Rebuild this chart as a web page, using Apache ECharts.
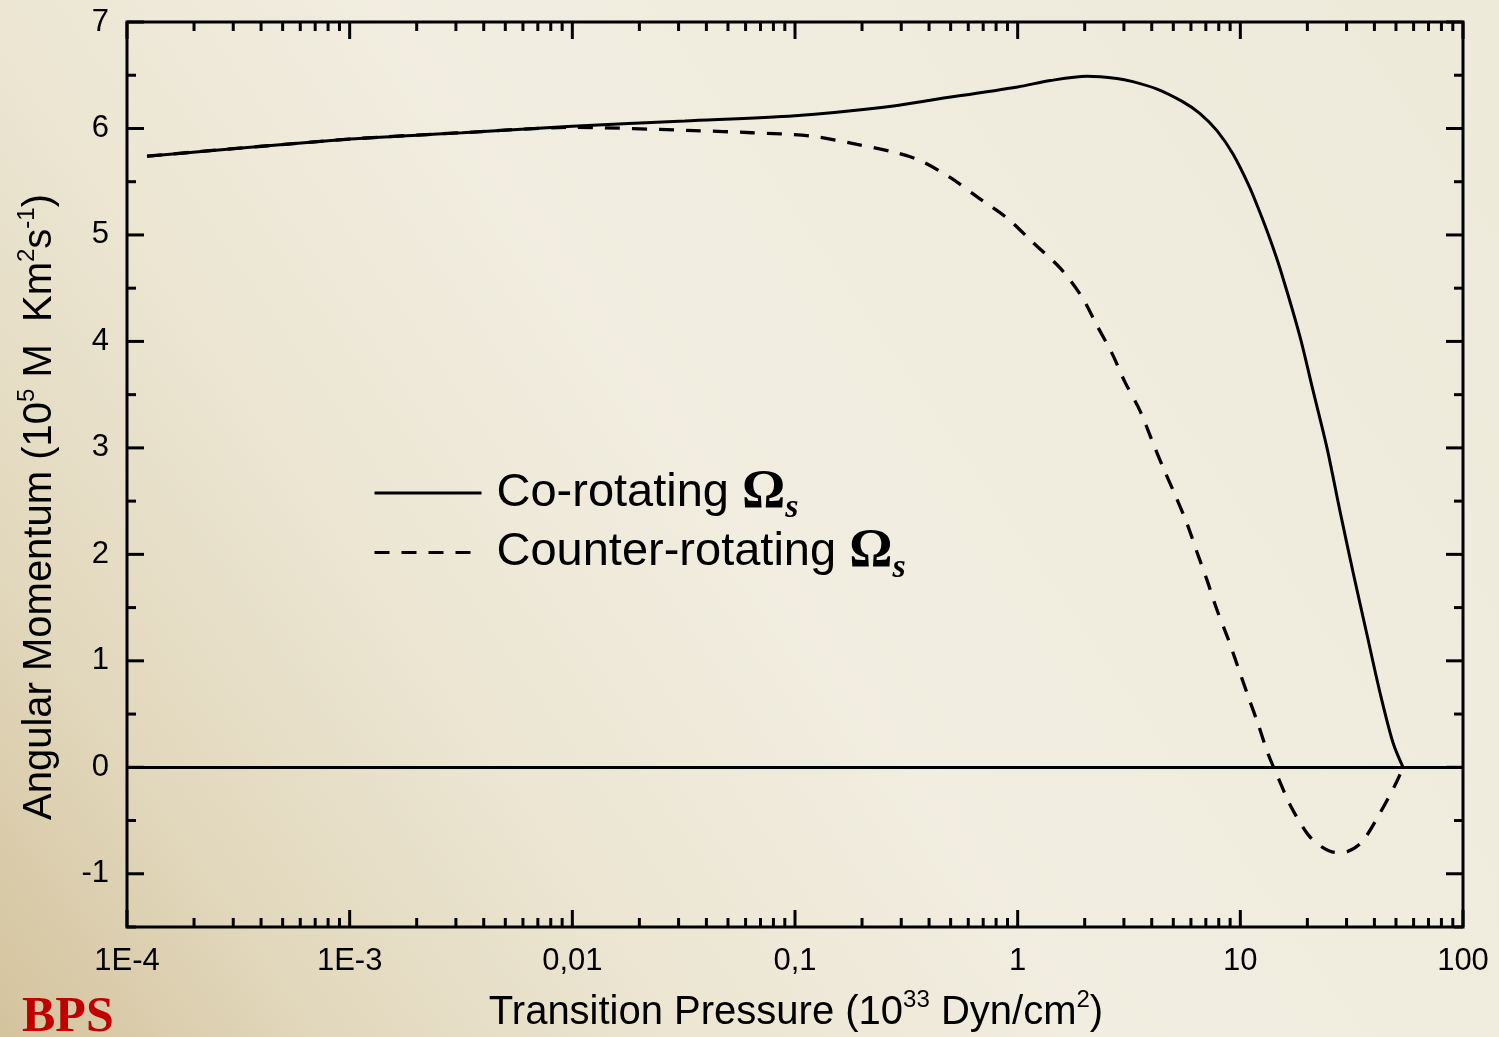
<!DOCTYPE html>
<html>
<head>
<meta charset="utf-8">
<script src="https://cdn.jsdelivr.net/npm/echarts@6/dist/echarts.min.js"></script>
<style>
  html, body { margin: 0; padding: 0; }
  #chart { width: 1499px; height: 1037px; }
</style>
</head>
<body>
<div id="chart"></div>
<script>
// transition pressure (10^33 Dyn/cm^2) and angular momentum (10^5 M Km^2 s^-1)
var pressureCo = [1.23e-4, 1e-3, 3.2e-3, 0.01, 0.032, 0.1, 0.25, 0.417, 1, 1.4, 2.05, 2.79, 3.29, 4.23, 5.53, 6.59, 7.85, 9.27,
  11.0, 12.2, 13.6, 15.1, 18.5, 21.2, 24.5, 28.0, 32.1, 37.1, 42.4, 48.5, 53.8];
var momentumCo = [5.74, 5.90, 5.96, 6.02, 6.07, 6.12, 6.20, 6.27, 6.39, 6.45, 6.49, 6.47, 6.44, 6.37, 6.25, 6.14, 5.98, 5.76,
  5.45, 5.22, 4.96, 4.68, 4.05, 3.54, 3.00, 2.41, 1.83, 1.24, 0.70, 0.23, 0];

var pressureCounter = [1.23e-4, 1e-3, 3.2e-3, 0.01, 0.0352, 0.064, 0.117, 0.190, 0.275, 0.364, 0.497, 0.656, 0.895,
  1.17, 1.55, 1.94, 2.27, 2.65, 3.03, 3.54, 4.01, 4.49, 5.09, 5.76, 6.39, 7.08, 7.85, 8.80, 9.76, 11.0, 12.0,
  13.3, 14.8, 16.9, 20.1, 23.3, 26.9, 30.4, 35.2, 42.4, 50.0, 53.8];
var momentumCounter = [5.74, 5.90, 5.96, 6.01, 5.98, 5.96, 5.93, 5.85, 5.78, 5.70, 5.54, 5.36, 5.16,
  4.93, 4.69, 4.42, 4.15, 3.89, 3.62, 3.35, 3.07, 2.82, 2.56, 2.29, 2.02, 1.76, 1.48, 1.21, 0.94, 0.63, 0.41,
  0.13, -0.10, -0.37, -0.63, -0.75, -0.80, -0.79, -0.70, -0.43, -0.15, 0];

var seriesNames = ['Co-rotating', 'Counter-rotating'];

// axis ticks and labels
var xMajorTicks = [1e-4, 1e-3, 0.01, 0.1, 1, 10, 100];
var xTickLabels = ['1E-4', '1E-3', '0,01', '0,1', '1', '10', '100'];
var xMinorSteps = [2, 3, 4, 5, 6, 7, 8, 9];
var yMajorTicks = [-1, 0, 1, 2, 3, 4, 5, 6, 7];
var yMinorTicks = [-1.5, -0.5, 0.5, 1.5, 2.5, 3.5, 4.5, 5.5, 6.5];
var yMin = -1.5, yMax = 7;

function pairs(xs, ys) {
  return xs.map(function (x, i) { return [x, ys[i]]; });
}

var xTickData = [];
xMajorTicks.forEach(function (t, i) {
  xTickData.push([t, 1]);
  if (i < xMajorTicks.length - 1) {
    xMinorSteps.forEach(function (m) { xTickData.push([t * m, 0]); });
  }
});
var yTickData = yMajorTicks.map(function (v) { return [1, v, 1]; })
  .concat(yMinorTicks.map(function (v) { return [1, v, 0]; }));

var tickStyle = { stroke: '#000', lineWidth: 3 };
var supRich = {
  n: { fontSize: 40, fontFamily: 'Liberation Sans', fill: '#000', lineHeight: 50 },
  p: { fontSize: 24, fontFamily: 'Liberation Sans', fill: '#000', lineHeight: 24, verticalAlign: 'top' }
};

var chart = echarts.init(document.getElementById('chart'));
chart.setOption({
  backgroundColor: {
    type: 'linear', x: 0, y: 1, x2: 1, y2: 0,
    colorStops: [
      { offset: 0, color: '#d4c39d' },
      { offset: 0.15, color: '#e2d8bd' },
      { offset: 0.32, color: '#ece6d3' },
      { offset: 0.5, color: '#f1ede0' },
      { offset: 1, color: '#edeada' }
    ]
  },
  animation: false,
  grid: {
    left: 127, right: 36, top: 22, bottom: 110,
    show: true, borderColor: '#000', borderWidth: 3, backgroundColor: 'transparent'
  },
  xAxis: {
    type: 'log', logBase: 10, min: 1e-4, max: 100, splitNumber: 6,
    axisLine: { show: false }, axisTick: { show: false }, splitLine: { show: false },
    axisLabel: {
      color: '#000', fontSize: 31, fontFamily: 'Liberation Sans', margin: 19,
      showMinLabel: true, showMaxLabel: true,
      formatter: function (v) {
        var i = Math.round(Math.log10(v)) + 4;
        return xTickLabels[i] || '';
      }
    }
  },
  yAxis: {
    type: 'value', min: yMin, max: yMax, interval: 0.5,
    axisLine: { show: false }, axisTick: { show: false }, splitLine: { show: false },
    axisLabel: {
      color: '#000', fontSize: 31, fontFamily: 'Liberation Sans', margin: 18,
      formatter: function (v) { return Math.abs(v - Math.round(v)) < 1e-9 ? String(Math.round(v)) : ''; }
    }
  },
  legend: {
    orient: 'vertical', left: 373, top: 466, padding: 0,
    itemWidth: 107, itemHeight: 14, itemGap: 0,
    data: seriesNames,
    itemStyle: { opacity: 0 },
    lineStyle: { width: 3 },
    formatter: function (name) {
      return '{t|' + name + ' }{o|\u03A9}{s|s}';
    },
    textStyle: {
      padding: [0, 0, 0, 10],
      rich: {
        t: { fontSize: 47, fontFamily: 'Liberation Sans', color: '#000', lineHeight: 53 },
        o: { fontSize: 54, fontFamily: 'Liberation Serif', fontWeight: 'bold', color: '#000', lineHeight: 53 },
        s: { fontSize: 34, fontFamily: 'Liberation Serif', fontWeight: 'bold', fontStyle: 'italic',
             color: '#000', lineHeight: 53, verticalAlign: 'bottom', padding: [0, 0, -6, 0] }
      }
    }
  },
  graphic: [
    {
      type: 'text', left: 22, top: 993,
      style: { text: 'BPS', fill: '#c00000', font: 'bold 50px "Liberation Serif"' }
    },
    {
      type: 'text', x: 796, y: 1013,
      style: {
        text: '{n|Transition Pressure (10}{p|33}{n| Dyn/cm}{p|2}{n|)}',
        align: 'center', verticalAlign: 'middle', rich: supRich
      }
    },
    {
      type: 'text', x: 40, y: 507, rotation: Math.PI / 2,
      style: {
        text: '{n|Angular Momentum (10}{p|5}{n| M  Km}{p|2}{n|s}{p|-1}{n|)}',
        align: 'center', verticalAlign: 'middle', rich: supRich
      }
    }
  ],
  series: [
    {
      name: seriesNames[0], type: 'line', data: pairs(pressureCo, momentumCo),
      symbol: 'none', smooth: 0.3, z: 3,
      lineStyle: { color: '#000', width: 3 },
      itemStyle: { color: '#000' },
      markLine: {
        silent: true, symbol: 'none', label: { show: false },
        lineStyle: { color: '#000', width: 3, type: 'solid' },
        data: [{ yAxis: 0 }]
      }
    },
    {
      name: seriesNames[1], type: 'line', data: pairs(pressureCounter, momentumCounter),
      symbol: 'none', smooth: 0.3, z: 3,
      lineStyle: { color: '#000', width: 3.3, type: [15, 12], cap: 'butt' },
      itemStyle: { color: '#000' }
    },
    {
      type: 'custom', silent: true, z: 4,
      data: xTickData,
      encode: { x: 0 },
      renderItem: function (params, api) {
        var v = api.value(0);
        var len = api.value(1) ? 17 : 9;
        var b = api.coord([v, yMin]);
        var t = api.coord([v, yMax]);
        return {
          type: 'group', children: [
            { type: 'line', shape: { x1: b[0], y1: b[1], x2: b[0], y2: b[1] - len }, style: tickStyle },
            { type: 'line', shape: { x1: t[0], y1: t[1], x2: t[0], y2: t[1] + len }, style: tickStyle }
          ]
        };
      }
    },
    {
      type: 'custom', silent: true, z: 4,
      data: yTickData,
      encode: { x: 0, y: 1 },
      renderItem: function (params, api) {
        var v = api.value(1);
        var len = api.value(2) ? 17 : 9;
        var l = api.coord([1e-4, v]);
        var r = api.coord([100, v]);
        return {
          type: 'group', children: [
            { type: 'line', shape: { x1: l[0], y1: l[1], x2: l[0] + len, y2: l[1] }, style: tickStyle },
            { type: 'line', shape: { x1: r[0], y1: r[1], x2: r[0] - len, y2: r[1] }, style: tickStyle }
          ]
        };
      }
    }
  ]
});
</script>
</body>
</html>
